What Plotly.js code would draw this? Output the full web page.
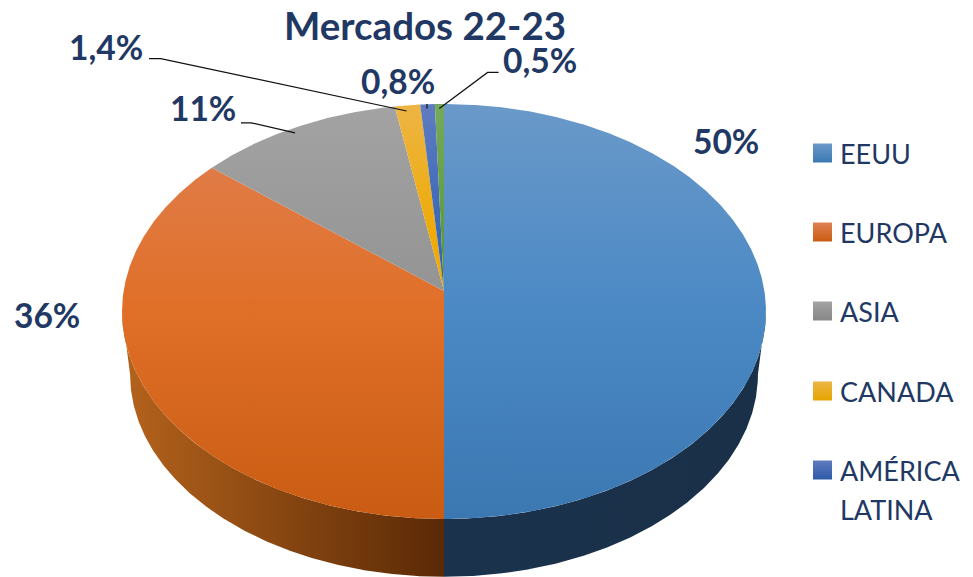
<!DOCTYPE html>
<html>
<head>
<meta charset="utf-8">
<script src="https://cdn.plot.ly/plotly-3.0.1.min.js"></script>
<style>html,body{margin:0;padding:0;background:#fff;overflow:hidden}#chart{width:973px;height:577px}</style>
</head>
<body>
<div id="chart"></div>
<script>
const categories = ['EEUU', 'EUROPA', 'ASIA', 'CANADA', 'AMÉRICA\nLATINA', 'OTROS'];
const values = [50, 36, 11.3, 1.4, 0.8, 0.5];
const valueLabels = ['50%', '36%', '11%', '1,4%', '0,8%', '0,5%'];
const titleText = 'Mercados 22-23';
const topColors = [
  [[0,'#6a99c9'],[0.5,'#4b89c5'],[1,'#3b78b2']],
  [[0,'#e08155'],[0.5,'#e06f27'],[1,'#c95c12']],
  [[0,'#a3a3a3'],[0.5,'#929292'],[1,'#878787']],
  [[0,'#edb545'],[0.3,'#eeab0a'],[1,'#e6a400']],
  [[0,'#5f7cc0'],[0.3,'#3c68b8'],[1,'#2f5aa8']],
  [[0,'#75aa5c'],[0.3,'#5f9b3e'],[1,'#558f36']]
];
const wallColors = {0: ['#1a3049', '#1b324c'], 1: ['#b5631c', '#5a2906']};
const labelPos = [[726,141],[47,315],[203,108],[106,47],[398,81],[540,60]];
const leaders = [
  null, null,
  [[241,122.8],[251,122.8],[295,132.8]],
  [[149,58.6],[160.7,58.6],[406.6,111]],
  [[427,104],[427,108.6]],
  [[498.6,72.4],[487.6,72.4],[439.3,108.6]]
];
const legendY = [153, 232, 311, 391, 470];

// perspective pie geometry
const CX = 444, CY = 311.5, RX = 320.4, RY = 207.5, PERSP = 0.0988, OFF = 20.5;
const BASE_SCALE = 0.975, BASE_CY = 374.5;
function rim(theta) {
  const u = Math.sin(theta), v = Math.cos(theta), d = 1 + PERSP * v;
  return [RX * u / d, (RY * v + OFF) / d];
}
const top_ = t => { const p = rim(t); return [CX + p[0], CY - p[1]]; };
const base = t => { const p = rim(t); return [CX + BASE_SCALE * p[0], BASE_CY - BASE_SCALE * p[1]]; };
function sweep(fn, a, b) {
  const n = Math.max(2, Math.ceil(Math.abs(b - a) / 0.006)), out = [];
  for (let i = 0; i <= n; i++) out.push(fn(a + (b - a) * i / n));
  return out;
}
const trace = (pts, extra) => Object.assign({
  type: 'scatter', mode: 'lines', x: pts.map(p => p[0]), y: pts.map(p => p[1]),
  hoverinfo: 'skip', showlegend: false
}, extra);

const total = values.reduce((a, b) => a + b, 0);
const traces = [];
const start = Math.PI / 2 + 0.099, half = Math.PI;

// side walls
[[start, half, 0], [half, 2 * Math.PI - start, 1]].forEach(([a, b, i]) => {
  const pts = sweep(top_, a, b).concat(sweep(base, b, a));
  pts.push(pts[0]);
  const xs = pts.map(p => p[0]);
  const cs = i === 1 ? [[0, wallColors[1][0]], [1, wallColors[1][1]]] : [[0, wallColors[0][1]], [1, wallColors[0][0]]];
  traces.push(trace(pts, {
    fill: 'toself', line: {width: 0}, name: 'wall',
    fillcolor: wallColors[i][0],
    fillgradient: {type: 'horizontal', colorscale: cs, start: Math.min(...xs), stop: Math.max(...xs)}
  }));
});

// top slices
let cum = 0;
values.forEach((v, i) => {
  const a = 2 * Math.PI * cum / total, b = 2 * Math.PI * (cum + v) / total;
  cum += v;
  const pts = [[CX, CY - OFF]].concat(sweep(top_, a, b));
  pts.push(pts[0]);
  traces.push(trace(pts, {
    fill: 'toself', line: {width: 0}, name: categories[i],
    fillcolor: topColors[i][1][1],
    fillgradient: {type: 'vertical', colorscale: topColors[i], start: 104, stop: 519}
  }));
});

// leader lines
leaders.forEach(l => { if (l) traces.push(trace(l, {line: {color: '#111', width: 1.2}})); });

// legend swatches
legendY.forEach((y, i) => traces.push({
  type: 'scatter', mode: 'markers', x: [822.5], y: [y], hoverinfo: 'skip', showlegend: false,
  marker: {symbol: 'square', size: 19, color: topColors[i][0][1], line: {width: 0},
           gradient: {type: 'vertical', color: topColors[i][2][1]}}
}));

const NAVY = '#1f3864';
const ann = [];
valueLabels.forEach((t, i) => ann.push({
  x: labelPos[i][0], y: labelPos[i][1], text: '<b>' + t + '</b>', showarrow: false,
  xanchor: 'center', yanchor: 'middle', font: {family: 'Lato', size: 33.5, color: NAVY}
}));
legendY.forEach((y, i) => categories[i].split('\n').forEach((line, j) => ann.push({
  x: 837.5, y: y + j * 39, text: line, showarrow: false, xanchor: 'left', yanchor: 'middle',
  font: {family: 'Lato', size: 27, color: NAVY}
})));

Plotly.newPlot('chart', traces, {
  width: 973, height: 577,
  margin: {l: 0, r: 0, t: 0, b: 0},
  paper_bgcolor: '#fff', plot_bgcolor: '#fff',
  showlegend: false,
  title: {text: '<b>' + titleText + '</b>', x: 425 / 973, y: 1 - 27 / 577, xanchor: 'center', yanchor: 'middle',
          font: {family: 'Lato', size: 38.5, color: NAVY}},
  xaxis: {range: [0, 973], visible: false, fixedrange: true},
  yaxis: {range: [577, 0], visible: false, fixedrange: true},
  annotations: ann
}, {displayModeBar: false, staticPlot: true});
</script>
</body>
</html>
